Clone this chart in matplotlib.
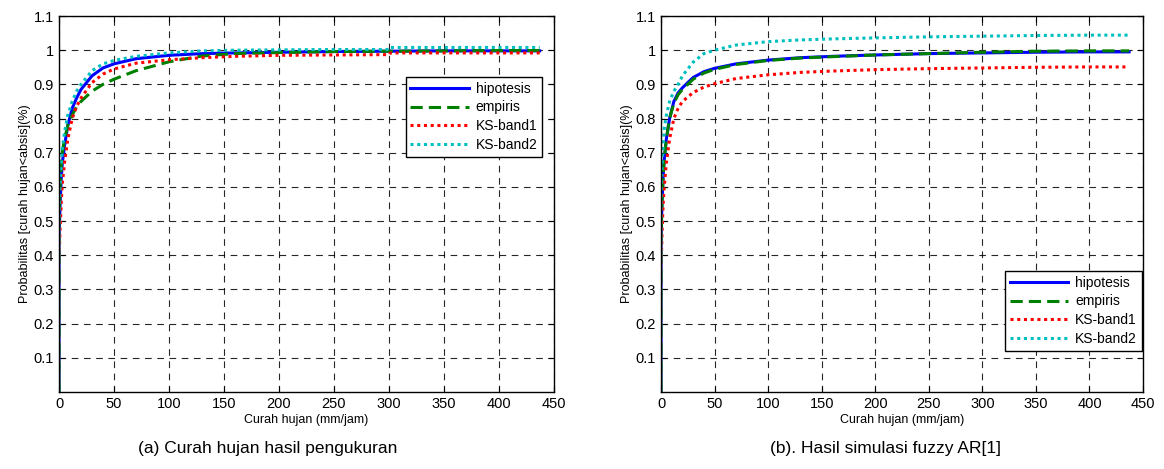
import matplotlib
matplotlib.use("Agg")
import matplotlib.pyplot as plt

plt.rcParams["font.family"] = ["Liberation Sans", "DejaVu Sans"]

# ── data ─────────────────────────────────────────────────────────────
x_pts = [0, 0, 1, 2, 3, 5, 8, 12, 16, 20, 30, 40, 50, 70, 100, 130, 160,
         200, 250, 300, 301, 350, 400, 437]

# (a) measured rainfall
a_hipotesis = [0, 0.45, 0.55, 0.62, 0.67, 0.72, 0.78, 0.83, 0.86, 0.885, 0.925,
               0.948, 0.96, 0.975, 0.985, 0.99, 0.992, 0.994, 0.996, 0.997,
               0.997, 0.998, 0.998, 0.998]
a_empiris = [0, 0.5, 0.6, 0.66, 0.7, 0.74, 0.78, 0.81, 0.835, 0.85, 0.88,
             0.9, 0.915, 0.94, 0.966, 0.983, 0.99, 0.993, 0.996, 0.997,
             0.997, 0.998, 0.999, 0.999]
a_ks1 = [0, 0.38, 0.48, 0.55, 0.61, 0.67, 0.74, 0.8, 0.835, 0.86, 0.905,
         0.93, 0.945, 0.962, 0.972, 0.978, 0.982, 0.985, 0.986, 0.987,
         0.992, 0.992, 0.992, 0.992]
a_ks2 = [0, 0.5, 0.6, 0.66, 0.71, 0.76, 0.81, 0.85, 0.88, 0.9, 0.94, 0.96,
         0.97, 0.982, 0.992, 0.998, 1.0, 1.001, 1.002, 1.002, 1.008, 1.008,
         1.008, 1.008]

# (b) fuzzy AR[1] simulation
b_hipotesis = [0, 0.45, 0.56, 0.63, 0.68, 0.74, 0.8, 0.85, 0.875, 0.89, 0.92,
               0.937, 0.947, 0.96, 0.971, 0.978, 0.982, 0.986, 0.99, 0.992,
               0.992, 0.994, 0.995, 0.995]
b_empiris = [0, 0.45, 0.56, 0.63, 0.68, 0.74, 0.8, 0.845, 0.87, 0.885, 0.915,
             0.933, 0.944, 0.958, 0.97, 0.977, 0.981, 0.986, 0.99, 0.994,
             0.994, 0.997, 0.998, 0.998]
b_ks1 = [0, 0.35, 0.47, 0.55, 0.6, 0.67, 0.74, 0.8, 0.83, 0.85, 0.876,
         0.892, 0.902, 0.917, 0.928, 0.935, 0.939, 0.943, 0.946, 0.948,
         0.948, 0.95, 0.951, 0.951]
b_ks2 = [0, 0.55, 0.66, 0.72, 0.77, 0.81, 0.85, 0.88, 0.9, 0.925, 0.965,
         0.99, 1.0, 1.015, 1.025, 1.03, 1.033, 1.036, 1.039, 1.041,
         1.041, 1.043, 1.044, 1.044]

labels = ["hipotesis", "empiris", "KS-band1", "KS-band2"]
x_ticks = list(range(0, 451, 50))
y_ticks = [0.1, 0.2, 0.3, 0.4, 0.5, 0.6, 0.7, 0.8, 0.9, 1.0, 1.1]
y_ticklabels = ["0.1", "0.2", "0.3", "0.4", "0.5", "0.6", "0.7", "0.8",
                "0.9", "1", "1.1"]

styles = [("#0000ff", "-", None),
          ("#008000", "--", (4, 2)),
          ("#ff0000", ":", (1, 1.2)),
          ("#00bfbf", ":", (1, 1.2))]

fig = plt.figure(figsize=(11.64, 4.69), dpi=100)
W, H = 1164, 469
ax_a = fig.add_axes([59 / W, 1 - 392 / H, 495 / W, 376 / H])
ax_b = fig.add_axes([661 / W, 1 - 392 / H, 482 / W, 376 / H])


def draw(ax, series, legend_anchor):
    for ys, lbl, (col, ls, dash) in zip(series, labels, styles):
        ln, = ax.plot(x_pts, ys, color=col, linestyle=ls, lw=2.2, label=lbl)
        if dash is not None:
            ln.set_dashes(dash)
    ax.set_xlim(0, 450)
    ax.set_ylim(0, 1.1)
    ax.set_xticks(x_ticks)
    ax.set_yticks(y_ticks)
    ax.set_yticklabels(y_ticklabels)
    ax.tick_params(direction="in", top=True, right=True, labelsize=10.5,
                   length=4, width=0.8)
    ax.grid(True, color="black", linestyle=(0, (6, 5)), lw=0.8, alpha=0.85)
    for sp in ax.spines.values():
        sp.set_linewidth(1.0)
    ax.set_xlabel("Curah hujan (mm/jam)", fontsize=9, labelpad=2)
    ax.set_ylabel("Probabilitas [curah hujan<absis](%)", fontsize=9, labelpad=2)
    leg = ax.legend(loc="lower left", bbox_to_anchor=legend_anchor,
                    fontsize=10, handlelength=4.2, handletextpad=0.5,
                    borderaxespad=0, fancybox=False, framealpha=1,
                    edgecolor="black", labelspacing=0.35, borderpad=0.35)
    leg.get_frame().set_linewidth(1.0)


draw(ax_a, [a_hipotesis, a_empiris, a_ks1, a_ks2], (0.70, 0.625))
draw(ax_b, [b_hipotesis, b_empiris, b_ks1, b_ks2], (0.714, 0.109))

fig.text(268 / W, 1 - 448 / H, "(a) Curah hujan hasil pengukuran",
         ha="center", va="center", fontsize=12.5)
fig.text(886 / W, 1 - 448 / H, "(b). Hasil simulasi fuzzy AR[1]",
         ha="center", va="center", fontsize=12.5)

fig.savefig("out.png", dpi=100)
